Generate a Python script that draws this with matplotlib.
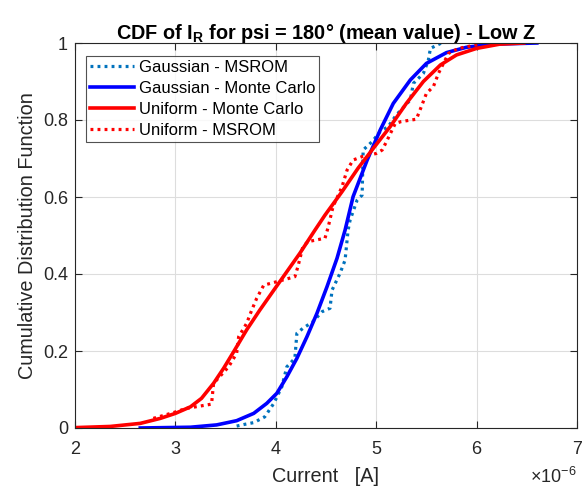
import matplotlib
matplotlib.use("Agg")
import matplotlib.pyplot as plt

plt.rcParams['font.family'] = ['Liberation Sans', 'DejaVu Sans']
plt.rcParams['mathtext.fontset'] = 'custom'
plt.rcParams['mathtext.rm'] = 'Liberation Sans'
plt.rcParams['mathtext.bf'] = 'Liberation Sans:bold'

# Data (current in units of 1e-6 A, CDF values)
gauss_msrom_x = [3.61, 3.70, 3.78, 3.89, 3.98, 4.06, 4.11, 4.19, 4.21, 4.27, 4.37, 4.46, 4.54, 4.56,
                 4.64, 4.69, 4.72, 4.74, 4.81, 4.86, 4.87, 4.96, 5.04, 5.12, 5.20, 5.34, 5.37,
                 5.47, 5.52, 5.54, 5.65]
gauss_msrom_y = [0.005, 0.010, 0.014, 0.029, 0.064, 0.107, 0.159, 0.181, 0.246, 0.259, 0.276, 0.302,
                 0.311, 0.358, 0.402, 0.436, 0.514, 0.540, 0.592, 0.605, 0.722, 0.744, 0.770,
                 0.783, 0.813, 0.852, 0.895, 0.921, 0.956, 0.986, 1.000]

gauss_mc_x = [2.65, 3.15, 3.41, 3.61, 3.78, 3.91, 4.01, 4.11, 4.21, 4.31, 4.41, 4.51, 4.61, 4.69,
              4.77, 4.91, 5.04, 5.17, 5.34, 5.50, 5.70, 5.90, 6.17, 6.60]
gauss_mc_y = [0.000, 0.002, 0.008, 0.019, 0.038, 0.064, 0.090, 0.133, 0.181, 0.237, 0.298, 0.367,
              0.441, 0.514, 0.601, 0.696, 0.774, 0.843, 0.904, 0.947, 0.975, 0.989, 0.997, 1.000]

unif_mc_x = [2.00, 2.35, 2.65, 2.85, 3.00, 3.15, 3.26, 3.38, 3.48, 3.58, 3.71, 3.84, 3.98, 4.11,
             4.24, 4.39, 4.49, 4.66, 4.82, 4.97, 5.14, 5.30, 5.47, 5.64, 5.80, 6.00, 6.23, 6.47]
unif_mc_y = [0.001, 0.004, 0.012, 0.025, 0.038, 0.055, 0.077, 0.116, 0.155, 0.198, 0.255, 0.306,
             0.358, 0.406, 0.454, 0.514, 0.553, 0.614, 0.675, 0.726, 0.783, 0.843, 0.900, 0.943,
             0.969, 0.986, 0.997, 1.000]

unif_msrom_x = [2.78, 2.98, 3.11, 3.36, 3.38, 3.44, 3.53, 3.61, 3.63, 3.71, 3.76, 3.81, 3.88, 4.01,
                4.19, 4.22, 4.27, 4.32, 4.49, 4.52, 4.57, 4.66, 4.71, 4.77, 4.86, 5.00, 5.06, 5.11,
                5.19, 5.25, 5.40, 5.45, 5.50, 5.57, 5.62, 5.67, 5.72, 5.82, 6.03]
unif_msrom_y = [0.025, 0.040, 0.051, 0.062, 0.116, 0.133, 0.159, 0.194, 0.237, 0.272, 0.306, 0.337,
                0.371, 0.380, 0.393, 0.419, 0.471, 0.484, 0.493, 0.520, 0.575, 0.627, 0.670, 0.696,
                0.705, 0.713, 0.722, 0.748, 0.791, 0.796, 0.802, 0.835, 0.869, 0.887, 0.921, 0.947,
                0.973, 0.986, 0.997]

x_ticks = [2, 3, 4, 5, 6, 7]
y_ticks = [0, 0.2, 0.4, 0.6, 0.8, 1]
y_tick_labels = ['0', '0.2', '0.4', '0.6', '0.8', '1']

fig = plt.figure(figsize=(5.87, 4.87), dpi=100)
ax = fig.add_axes([75/587, 1-428/487, (577-75)/587, (428-43)/487])

dot = (0, (0.9, 1.3))
ax.plot(gauss_msrom_x, gauss_msrom_y, color=(0, 0.447, 0.741), lw=2.3, linestyle=dot,
        label='Gaussian - MSROM')
ax.plot(gauss_mc_x, gauss_mc_y, color=(0, 0, 1), lw=2.6, label='Gaussian - Monte Carlo')
ax.plot(unif_mc_x, unif_mc_y, color=(1, 0, 0), lw=2.6, label='Uniform - Monte Carlo')
ax.plot(unif_msrom_x, unif_msrom_y, color=(1, 0, 0), lw=2.3, linestyle=dot,
        label='Uniform - MSROM')

ax.set_xlim(2, 7)
ax.set_ylim(0, 1)
ax.set_xticks(x_ticks)
ax.set_yticks(y_ticks)
ax.set_yticklabels(y_tick_labels)
ax.tick_params(direction='in', top=True, right=True, labelsize=13, length=5, width=0.8,
               colors='#262626')
ax.tick_params(axis='x', pad=9)
ax.tick_params(axis='y', pad=5)
for s in ax.spines.values():
    s.set_color('#262626')
    s.set_linewidth(0.8)
ax.grid(True, color='#dddddd', linewidth=0.8)
ax.set_axisbelow(True)

ax.set_xlabel('Current   [A]', fontsize=14.3, color='#262626', labelpad=7)
ax.set_ylabel('Cumulative Distribution Function', fontsize=14.3, color='#262626', labelpad=4)
ax.set_title(r'CDF of I$_{\mathbf{R}}$ for psi = 180° (mean value) - Low Z', fontsize=14.3,
             fontweight='bold', pad=3)
ax.text(1.0, -0.143, r'$\times$10$^{-6}$', transform=ax.transAxes, ha='right', va='baseline',
        fontsize=13, color='#262626')

leg = ax.legend(loc='upper left', bbox_to_anchor=(0.022, 0.966), fontsize=12, frameon=True,
                fancybox=False, edgecolor='#262626', handlelength=2.6, handletextpad=0.3,
                borderpad=0.25, labelspacing=0.36, borderaxespad=0)
leg.get_frame().set_linewidth(0.8)

fig.savefig('out.png', dpi=100)
